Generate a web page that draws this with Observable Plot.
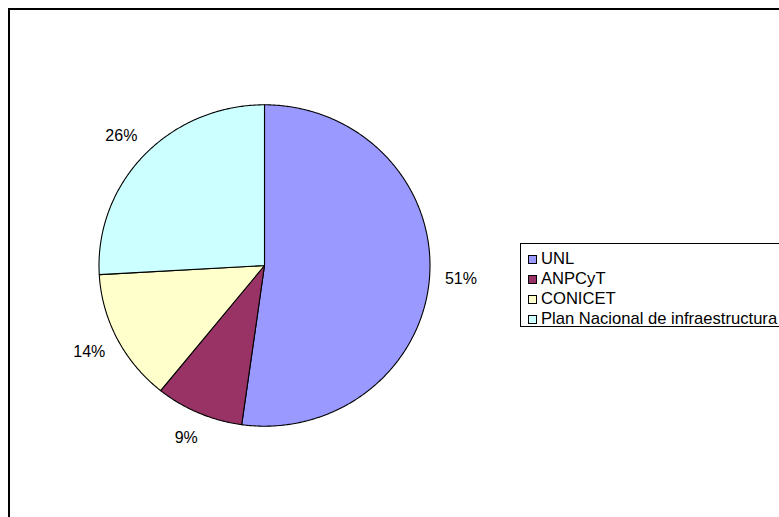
<!DOCTYPE html>
<html><head><meta charset="utf-8">
<script src="https://cdn.jsdelivr.net/npm/d3@7"></script>
<script src="https://cdn.jsdelivr.net/npm/@observablehq/plot@0.6"></script>
<style>
html,body{margin:0;padding:0;overflow:hidden;background:#fff;font-family:"Liberation Sans",Arial,sans-serif}
#wrap{position:relative;width:779px;height:517px;overflow:hidden;background:#fff}
#frame{position:absolute;left:8px;top:8px;width:900px;height:700px;border:2px solid #000;box-sizing:border-box;pointer-events:none}
#chart{position:absolute;left:0;top:0}
#legend{position:absolute;left:520px;top:243px;width:400px;height:84px;border:1px solid #000;box-sizing:border-box;background:#fff;padding-top:5px}
.item{display:flex;align-items:center;height:20px;font-size:16.6px;color:#000;white-space:nowrap}
.sw{width:7px;height:7px;border:1px solid #000;margin-left:7px;margin-right:4px}
</style>
</head><body>
<div id="wrap"><div id="chart"></div><div id="frame"></div><div id="legend"></div></div>
<script>
// Data
const categories = ["UNL", "ANPCyT", "CONICET", "Plan Nacional de infraestructura"];
const shares = [52.2, 8.6, 13.3, 25.9];      // slice sizes as drawn
const labels = ["51%", "9%", "14%", "26%"];  // printed data labels
const colors = ["#9999FF", "#993366", "#FFFFCC", "#CCFFFF"];

const W = 779, H = 517;
const cx = 264, cy = 265, rx = 165.5, ry = 160.7;

const arcs = d3.pie().sort(null).value(d => d)(shares);
const rows = [];
arcs.forEach((a, i) => {
  const cat = categories[i];
  rows.push({cat, x: 0, y: 0});
  const n = Math.max(4, Math.ceil((a.endAngle - a.startAngle) / (Math.PI / 360)));
  for (let k = 0; k <= n; k++) {
    const t = a.startAngle + (a.endAngle - a.startAngle) * k / n;
    rows.push({cat, x: Math.sin(t), y: Math.cos(t)});
  }
  rows.push({cat, x: 0, y: 0});
});
const labelRows = arcs.map((a, i) => {
  const m = (a.startAngle + a.endAngle) / 2;
  return {cat: categories[i], text: labels[i], x: 1.19 * Math.sin(m), y: 1.17 * Math.cos(m)};
});

const plot = Plot.plot({
  width: W, height: H,
  margin: 0,
  style: {background: "transparent", fontFamily: "'Liberation Sans', Arial, sans-serif"},
  x: {domain: [-cx / rx, (W - cx) / rx], range: [0, W], axis: null},
  y: {domain: [-(H - cy) / ry, cy / ry], range: [H, 0], axis: null},
  color: {domain: categories, range: colors},
  marks: [
    Plot.line(rows, {x: "x", y: "y", z: "cat", fill: "cat", stroke: "#000", strokeWidth: 1.1, curve: "linear", strokeLinejoin: "round"}),
    Plot.text(labelRows, {x: "x", y: "y", text: "text", fontSize: 16, fill: "#000"})
  ]
});
document.getElementById("chart").appendChild(plot);

const legend = document.getElementById("legend");
categories.forEach((c, i) => {
  const it = document.createElement("div");
  it.className = "item";
  const sw = document.createElement("span");
  sw.className = "sw";
  sw.style.background = colors[i];
  const tx = document.createElement("span");
  tx.textContent = c;
  it.appendChild(sw); it.appendChild(tx);
  legend.appendChild(it);
});
</script>
</body></html>
